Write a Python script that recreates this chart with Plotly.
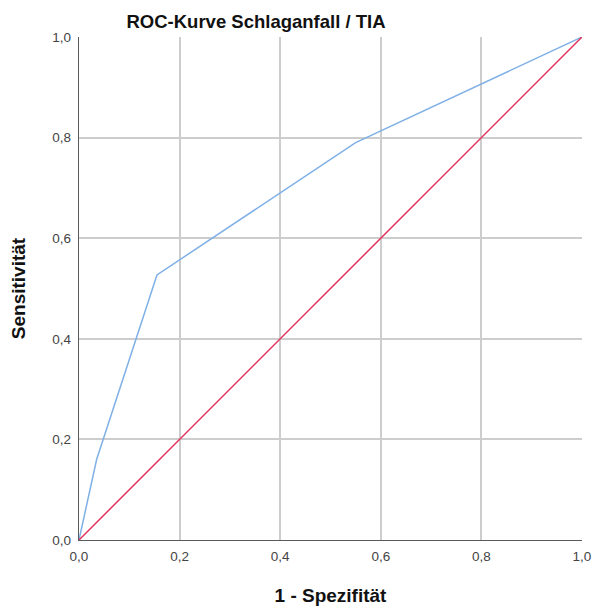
import plotly.graph_objects as go

# ROC curve coordinates (1 - specificity, sensitivity)
fpr = [0.0, 0.035, 0.155, 0.55, 1.0]
tpr = [0.0, 0.16, 0.527, 0.79, 1.0]

# reference diagonal
diag_x = [0.0, 1.0]
diag_y = [0.0, 1.0]

tick_vals = [0.0, 0.2, 0.4, 0.6, 0.8, 1.0]
tick_text = ["0,0", "0,2", "0,4", "0,6", "0,8", "1,0"]

FONT = "Liberation Sans, Arial"

fig = go.Figure()
fig.add_trace(go.Scatter(x=fpr, y=tpr, mode="lines",
                         line=dict(color="#7fb0e6", width=1.5), hoverinfo="skip"))
fig.add_trace(go.Scatter(x=diag_x, y=diag_y, mode="lines",
                         line=dict(color="#e2345c", width=1.5), hoverinfo="skip"))

axis_common = dict(
    range=[0, 1], tickvals=tick_vals, ticktext=tick_text,
    showgrid=True, gridcolor="#cdcdcd", gridwidth=1.5,
    showline=True, linecolor="#5a5a5a", linewidth=1.4,
    zeroline=False, ticks="", automargin=False,
    tickfont=dict(family=FONT, size=13.5, color="#444444"),
)

fig.update_layout(
    width=593, height=608,
    margin=dict(l=79, r=11, t=37, b=68),
    paper_bgcolor="white", plot_bgcolor="white",
    showlegend=False,
    title=dict(text="<b>ROC-Kurve Schlaganfall / TIA</b>",
               x=256 / 593, xref="container", xanchor="center",
               y=1 - 22 / 608, yref="container", yanchor="middle",
               font=dict(family=FONT, size=18.5, color="#111111")),
    xaxis=dict(**axis_common, ticklabelstandoff=4,
               title=dict(text="<b>1 - Spezifität</b>", standoff=25,
                          font=dict(family=FONT, size=19, color="#111111"))),
    yaxis=dict(**axis_common, ticklabelstandoff=4,
               title=dict(text="<b>Sensitivität</b>", standoff=21,
                          font=dict(family=FONT, size=19, color="#111111"))),
)

fig.write_html("out.html")
